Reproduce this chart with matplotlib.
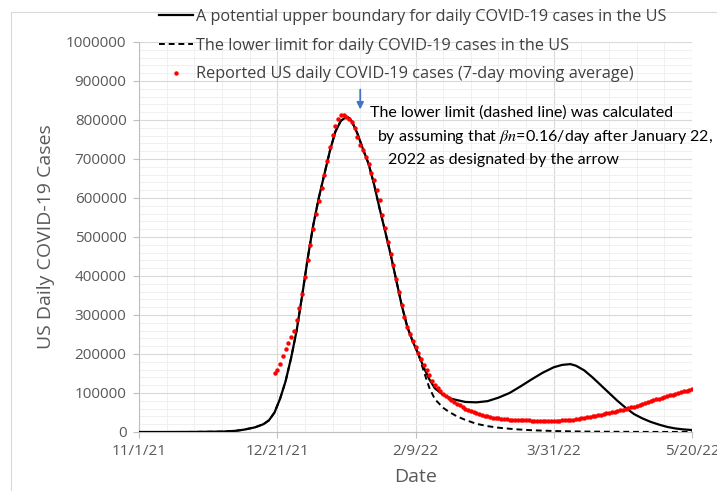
import numpy as np
import matplotlib.pyplot as plt
from matplotlib.lines import Line2D

plt.rcParams['font.family'] = ['Open Sans', 'DejaVu Sans']
plt.rcParams['mathtext.fontset'] = 'stix'

# days counted from 11/1/21
date_labels = ['11/1/21', '12/21/21', '2/9/22', '3/31/22', '5/20/22']
date_ticks = [0, 50, 100, 150, 200]

# upper boundary (model)
upper_days = [0, 10, 20, 30, 35, 38, 42, 45, 47, 49, 51, 53, 55, 57, 59, 61, 63, 65,
              67, 69, 71, 73, 75, 76, 77, 79, 81, 83, 85, 87, 89, 91, 93, 95, 97, 99,
              101, 103, 105, 107, 110, 113, 118, 122, 126, 130, 134, 138, 142, 146,
              150, 153, 156, 158, 161, 164, 167, 170, 173, 176, 179, 182, 185, 188,
              191, 194, 197, 200]
upper_vals = [0, 0, 200, 1000, 3000, 6000, 12000, 20000, 30000, 50000, 85000, 130000,
              190000, 260000, 350000, 445000, 530000, 600000, 660000, 720000, 770000,
              798000, 808000, 805000, 796000, 765000, 725000, 688000, 635000, 573000,
              515000, 455000, 390000, 325000, 270000, 232000, 200000, 165000, 135000,
              112000, 95000, 85000, 77000, 76000, 79000, 88000, 100000, 117000, 135000,
              152000, 166000, 172000, 174000, 170000, 158000, 140000, 120000, 100000,
              80000, 62000, 46000, 35000, 26000, 19000, 13000, 9000, 6500, 5000]

# lower limit departs from the upper curve after day 101
lower_days_tail = [103, 105, 107, 110, 112, 115, 118, 122, 126, 130, 136, 142, 150,
                   160, 170, 180, 190, 200]
lower_vals_tail = [155000, 113000, 84000, 62000, 52000, 40000, 31000, 21000, 15000,
                   11000, 7000, 4500, 2500, 1200, 600, 300, 150, 100]

# reported 7-day average, one value per day from day 49 (12/20/21)
reported_start = 49
reported = [150000, 159000, 174000, 194000, 212000, 228000, 243000, 260000, 287000, 318000,
            355000, 398000, 442000, 480000, 520000, 558000, 592000, 625000, 660000, 696000,
            732000, 762000, 784000, 803000, 814000, 813000, 808000, 803000, 795000, 780000,
            757000, 735000, 722000, 706000, 686000, 665000, 645000, 621000, 595000, 556000,
            522000, 487000, 457000, 428000, 393000, 360000, 325000, 295000, 270000, 250000,
            233000, 218000, 203000, 188000, 172000, 158000, 145000, 132000, 120000, 112000,
            104000, 98000, 92000, 87000, 82000, 77000, 72000, 68000, 64000, 60000,
            57000, 54000, 51000, 48000, 46000, 44000, 42000, 40000, 38500, 37000,
            36000, 35000, 34000, 33000, 32500, 32000, 31500, 31000, 30500, 30000,
            30000, 29500, 29500, 29000, 29000, 29000, 28500, 28500, 28500, 28500,
            28500, 28500, 29000, 29000, 29500, 30000, 30500, 31000, 32000, 33000,
            34000, 35000, 36000, 37500, 39000, 40000, 41500, 43000, 44500, 46000,
            47500, 49000, 50500, 52000, 54000, 55500, 57000, 59000, 61000, 63000,
            65000, 67500, 70000, 72000, 74500, 77000, 79000, 81000, 83500, 85500,
            88000, 90000, 92000, 94000, 96000, 98000, 100000, 102000, 104000, 105500,
            107500, 109000]

y_ticks = list(range(0, 1000001, 100000))

upper_days = np.array(upper_days)
upper_vals = np.array(upper_vals)
keep = upper_days <= 101
lower_days = np.concatenate([upper_days[keep], lower_days_tail])
lower_vals = np.concatenate([upper_vals[keep], lower_vals_tail])
reported_days = np.arange(reported_start, reported_start + len(reported))

fig = plt.figure(figsize=(7.17, 4.91), dpi=100)
ax = fig.add_axes([0.1939, 0.1202, 0.7713, 0.7943])

grey = '#595959'
ax.plot(upper_days, upper_vals, color='black', lw=1.6, zorder=3)
ax.plot(lower_days, lower_vals, color='black', lw=1.4, ls=(0, (3, 2)), zorder=3)
ax.plot(reported_days, reported, 'o', color='red', ms=3.2, mew=0, zorder=4)

ax.set_xlim(0, 200)
ax.set_ylim(0, 1000000)
ax.set_xticks(date_ticks)
ax.set_xticklabels(date_labels)
ax.set_xticks(np.arange(0, 201, 10), minor=True)
ax.set_yticks(y_ticks)
ax.set_yticklabels([str(v) for v in y_ticks])
ax.set_yticks(np.arange(0, 1000001, 20000), minor=True)

ax.grid(which='major', color='#D9D9D9', lw=0.8, zorder=0)
ax.grid(which='minor', color='#F0F0F0', lw=0.7, zorder=0)
ax.set_axisbelow(True)
for s in ['top', 'right']:
    ax.spines[s].set_visible(False)
for s in ['left', 'bottom']:
    ax.spines[s].set_color('#BFBFBF')
    ax.spines[s].set_linewidth(0.8)
ax.tick_params(which='major', length=4, color='#BFBFBF', labelsize=11,
               labelcolor=grey, pad=5)
ax.tick_params(which='minor', length=0)

ax.set_xlabel('Date', fontsize=14, color=grey, labelpad=6)
ax.set_ylabel('US Daily COVID-19 Cases', fontsize=14, color=grey, labelpad=8)

handles = [Line2D([], [], color='black', lw=1.6),
           Line2D([], [], color='black', lw=1.4, ls=(0, (3, 2))),
           Line2D([], [], marker='o', color='red', ls='none', ms=3.2, mew=0)]
labels = ['A potential upper boundary for daily COVID-19 cases in the US',
          'The lower limit for daily COVID-19 cases in the US',
          'Reported US daily COVID-19 cases (7-day moving average)']
leg = fig.legend(handles, labels, loc='upper left', bbox_to_anchor=(0.222, 0.982),
                 frameon=False, fontsize=11.7, handlelength=2.1, handletextpad=0.15,
                 labelspacing=0.78, borderpad=0, borderaxespad=0)
for t in leg.get_texts():
    t.set_color('#404040')

# annotation with arrow
ax.annotate('', xy=(80, 820000), xytext=(80, 885000),
            arrowprops=dict(arrowstyle='-|>', color='#4472C4', lw=1.3,
                            mutation_scale=10))
note = ['The lower limit (dashed line) was calculated',
        r'by assuming that $\beta n$=0.16/day after January 22,',
        '2022 as designated by the arrow']
note_x = [0.417, 0.430, 0.450]
note_y = [0.818, 0.757, 0.698]
for s, nx, ny in zip(note, note_x, note_y):
    ax.text(nx, ny, s, transform=ax.transAxes, fontsize=11.5, color='black',
            family=['Lato', 'DejaVu Sans'], va='center', ha='left')

# chart area border
fig.add_artist(Line2D([11 / 717, 1], [1 - 12 / 491, 1 - 12 / 491],
                      color='#D9D9D9', lw=0.8))
fig.add_artist(Line2D([11 / 717, 11 / 717], [0, 1 - 12 / 491],
                      color='#D9D9D9', lw=0.8))

fig.savefig('out.png', dpi=100)
